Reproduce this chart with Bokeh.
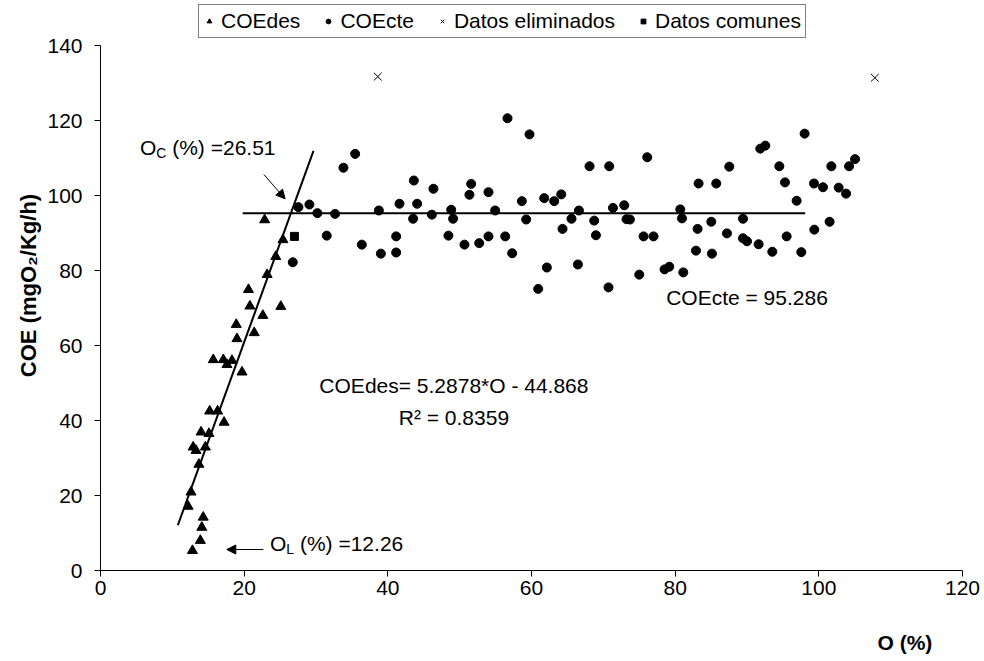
from bokeh.plotting import figure
from bokeh.models import FixedTicker, Arrow, NormalHead, LinearAxis
from bokeh.core.properties import value
from bokeh.embed import file_html
from bokeh.resources import INLINE

FONT = "Liberation Sans"

# COEdes (triangles)
des_x = [22.85, 25.4, 24.4, 23.2, 20.6, 20.8, 25.1, 22.6, 18.9, 21.4, 19.0, 15.7, 17.1, 18.3, 17.6, 19.7,
         15.2, 16.3, 17.2, 14.0, 15.1, 12.9, 13.3, 14.6, 13.7, 12.6, 12.2, 14.3, 14.1, 13.9, 12.8]
des_y = [93.5, 88.2, 83.7, 78.9, 74.9, 70.5, 70.4, 68.0, 65.6, 63.4, 61.8, 56.2, 56.2, 56.0, 54.9, 52.9,
         42.5, 42.5, 39.5, 36.9, 36.5, 32.9, 32.0, 32.9, 28.3, 20.9, 17.1, 14.2, 11.5, 8.0, 5.3]

# COEcte (circles)
cte_x = [27.55, 29.08, 30.19, 31.50, 32.66, 33.82, 35.45, 36.38, 38.75, 39.03, 41.16, 41.16, 41.62, 43.62,
         43.52, 44.08, 46.13, 46.35, 48.44, 48.82, 49.09, 50.67, 51.36, 51.60, 52.72, 54.01, 54.01, 54.94,
         56.34, 56.66, 57.31, 58.66, 59.26, 59.72, 60.93, 61.77, 62.14, 63.16, 64.14, 64.32, 65.57, 66.46,
         66.60, 68.08, 68.73, 68.97, 70.72, 70.82, 71.34, 72.91, 73.23, 73.70, 75.00, 75.60, 76.11, 76.99,
         78.52, 79.18, 80.71, 80.95, 81.13, 82.90, 83.12, 83.26, 85.03, 85.12, 85.72, 87.53, 87.21, 89.44,
         89.44, 90.00, 91.62, 91.85, 92.55, 93.52, 94.50, 95.29, 95.52, 96.91, 97.56, 98.02, 99.33, 99.37,
         100.58, 101.50, 101.74, 102.76, 103.79, 104.21, 105.04, 26.77]
cte_y = [96.9, 97.6, 95.3, 89.3, 95.1, 107.4, 111.1, 86.9, 96.0, 84.5, 89.1, 84.8, 97.8, 104.0,
         93.8, 97.8, 94.9, 101.8, 89.3, 96.2, 93.8, 86.9, 100.2, 103.1, 87.3, 100.9, 89.1, 96.0,
         89.1, 120.6, 84.6, 98.5, 93.6, 116.3, 75.1, 99.3, 80.8, 98.5, 100.3, 91.1, 93.8, 81.6,
         96.0, 107.8, 93.3, 89.4, 75.5, 107.8, 96.7, 97.4, 93.7, 93.6, 78.9, 89.1, 110.2, 89.1,
         80.3, 81.0, 96.3, 93.9, 79.5, 85.3, 91.1, 103.2, 93.0, 84.5, 103.2, 107.7, 89.9, 93.8,
         88.6, 87.8, 87.0, 112.5, 113.3, 85.0, 107.8, 103.5, 89.1, 98.6, 84.9, 116.5, 103.2, 90.9,
         102.2, 93.0, 107.8, 102.1, 100.5, 107.8, 109.7, 82.2]

# Datos eliminados (x marks)
elim_x = [38.6, 107.8]
elim_y = [131.7, 131.4]

# Datos comunes (square)
com_x = [27.0]
com_y = [89.1]

# Regression of COEdes and constant COEcte
slope = 5.2878
intercept = -44.868
fit_x = [10.77, 29.65]
fit_y = [slope * v + intercept for v in fit_x]
cte_value = 95.286
cte_line_x = [19.8, 98.1]
cte_line_y = [cte_value, cte_value]

x_ticks = [0, 20, 40, 60, 80, 100, 120]
y_ticks = [0, 20, 40, 60, 80, 100, 120, 140]

# frame extends above 140 to hold the legend; axis is bounded to 0-140
p = figure(width=980, height=658, x_range=(0, 120), y_range=(0, 152),
           output_backend="svg", toolbar_location=None,
           min_border_left=100, min_border_right=18, min_border_top=0, min_border_bottom=88)
p.outline_line_color = None
p.background_fill_color = "white"
p.border_fill_color = "white"
p.xgrid.visible = False
p.ygrid.visible = False

for ax in (p.xaxis[0], p.yaxis[0]):
    ax.axis_line_color = "black"
    ax.major_tick_line_color = "black"
    ax.major_tick_out = 6
    ax.major_tick_in = 0
    ax.minor_tick_line_color = None
    ax.major_label_text_font = FONT
    ax.major_label_text_font_size = "21px"
    ax.major_label_text_color = "black"

p.xaxis.ticker = FixedTicker(ticks=x_ticks)
p.yaxis.ticker = FixedTicker(ticks=y_ticks)
p.yaxis.bounds = (0, 140)
p.xaxis.bounds = (0, 120)
p.xaxis.major_label_standoff = 4
p.yaxis.major_label_standoff = 12
p.yaxis.axis_label = "COE (mgO₂/Kg/h)"
p.yaxis.axis_label_text_font = FONT
p.yaxis.axis_label_text_font_size = "22px"
p.yaxis.axis_label_text_font_style = "bold"
p.yaxis.axis_label_text_color = "black"
p.yaxis.axis_label_standoff = 3

# secondary bottom axis only to carry the right-side "O (%)" title
xt = LinearAxis(ticker=FixedTicker(ticks=[]),
                axis_line_color=None, major_tick_line_color=None, minor_tick_line_color=None,
                major_label_text_font_size="0px", axis_label_text_font=FONT,
                axis_label_text_font_size="21px", axis_label_text_font_style="bold",
                axis_label_text_color="black", axis_label_standoff=33)
xt.axis_label = "\u00a0" * 128 + "O (%)"
p.add_layout(xt, "below")

# lines
p.line(fit_x, fit_y, line_color="black", line_width=2)
p.line(cte_line_x, cte_line_y, line_color="black", line_width=2)

# points
p.scatter(des_x, des_y, marker="triangle", size=10, fill_color="black", line_color="black",
          legend_label="COEdes")
p.scatter(cte_x, cte_y, marker="circle", size=9, fill_color="black", line_color="black",
          legend_label="COEcte")
p.scatter(elim_x, elim_y, marker="x", size=11, line_color="black", line_width=1,
          legend_label="Datos eliminados")
p.scatter(com_x, com_y, marker="square", size=8, fill_color="black", line_color="black",
          legend_label="Datos comunes")

leg = p.legend[0]
leg.orientation = "horizontal"
leg.label_text_font = FONT
leg.label_text_font_size = "21px"
leg.label_text_color = "black"
leg.border_line_color = "black"
leg.border_line_width = 1
leg.background_fill_color = "white"
leg.background_fill_alpha = 1
leg.glyph_width = 12
leg.glyph_height = 20
leg.label_standoff = 6
leg.spacing = 22
leg.padding = 4
leg.margin = 0
leg.location = (98, 532)

# annotations
def txt(x, y, s, size="21px", align="left", xo=0, yo=0, style="normal"):
    p.text(x=[x], y=[y], text=[s], text_font=value(FONT), text_font_size=value(size),
           text_align=align, text_baseline="middle", x_offset=xo, y_offset=yo,
           text_color="black", text_font_style=style)

oc_pos = (5.5, 112.8)
txt(oc_pos[0], oc_pos[1], "O")
txt(oc_pos[0], oc_pos[1], "C", size="14px", xo=16.3, yo=5)
txt(oc_pos[0], oc_pos[1], "(%) =26.51", xo=32.2)

ol_pos = (23.6, 7.2)
txt(ol_pos[0], ol_pos[1], "O")
txt(ol_pos[0], ol_pos[1], "L", size="14px", xo=16.3, yo=5)
txt(ol_pos[0], ol_pos[1], "(%) =12.26", xo=29.9)

txt(49.2, 49.3, "COEdes= 5.2878*O - 44.868", align="center")
txt(49.2, 40.8, "R² = 0.8359", align="center")
txt(90.0, 72.8, "COEcte = 95.286", align="center")

arrow_oc = ((22.75, 105.6), (25.7, 99.1))
arrow_ol = ((22.67, 5.6), (17.58, 5.6))
for (x0, y0), (x1, y1) in (arrow_oc, arrow_ol):
    p.add_layout(Arrow(end=NormalHead(size=9, fill_color="black", line_color="black"),
                       x_start=x0, y_start=y0, x_end=x1, y_end=y1,
                       line_color="black", line_width=1))

open("out.html", "w").write(file_html(p, INLINE))
